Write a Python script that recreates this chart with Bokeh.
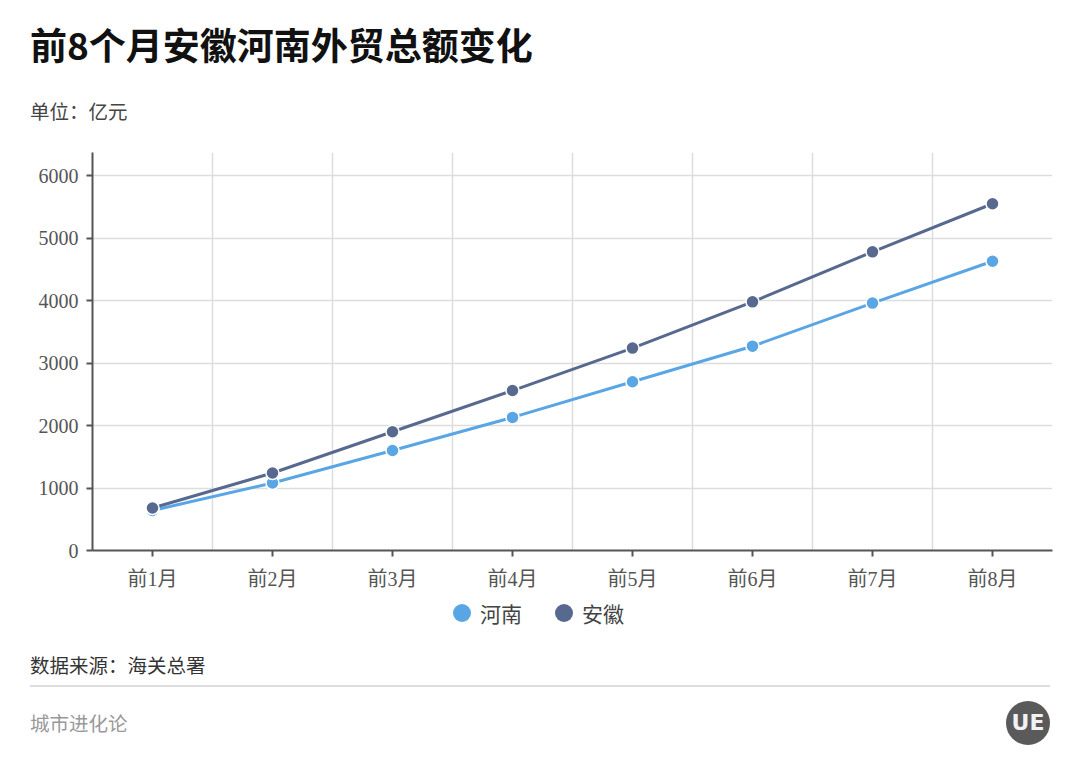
from bokeh.plotting import figure
from bokeh.models import (Div, Range1d, FixedTicker, ColumnDataSource)
from bokeh.layouts import column
from bokeh.embed import file_html
from bokeh.resources import INLINE

# ---- data ----
categories = ["前1月", "前2月", "前3月", "前4月", "前5月", "前6月", "前7月", "前8月"]
henan = [640, 1080, 1600, 2130, 2700, 3270, 3960, 4630]
anhui = [680, 1240, 1900, 2560, 3240, 3980, 4780, 5550]
y_ticks = [0, 1000, 2000, 3000, 4000, 5000, 6000]
series_names = ["河南", "安徽"]
colors = ["#5aa6e4", "#58698f"]

x_pos = [i + 0.5 for i in range(len(categories))]
boundaries = [i for i in range(1, len(categories))]

CJK = "'Noto Sans CJK SC'"
SERIF_MIX = "'Liberation Serif', 'Noto Sans CJK SC'"

title_div = Div(
    width=1072, height=142,
    text=(
        "<div style='position:relative;width:1072px;height:142px;'>"
        f"<div style=\"position:absolute;left:30px;top:24px;font-family:{CJK};font-weight:bold;"
        "font-size:37px;line-height:40px;color:#111;white-space:nowrap;\">前8个月安徽河南外贸总额变化</div>"
        f"<div style=\"position:absolute;left:30px;top:100px;font-family:{CJK};"
        "font-size:19.5px;line-height:22px;color:#444;white-space:nowrap;\">单位：亿元</div>"
        "</div>"
    ),
    styles={"margin": "0", "padding": "0"},
)

p = figure(
    frame_width=960, frame_height=398,
    min_border_left=92, min_border_right=20, min_border_top=10, min_border_bottom=50,
    x_range=Range1d(0, len(categories)), y_range=Range1d(0, 6370),
    output_backend="svg", toolbar_location=None,
    background_fill_color="white", border_fill_color="white",
)
p.outline_line_color = None

# axes
p.xaxis.ticker = FixedTicker(ticks=x_pos)
p.xaxis.major_label_overrides = {x: c for x, c in zip(x_pos, categories)}
p.yaxis.ticker = FixedTicker(ticks=y_ticks)
for ax in (p.xaxis[0], p.yaxis[0]):
    ax.axis_line_color = "#555555"
    ax.axis_line_width = 2
    ax.major_tick_line_color = "#555555"
    ax.major_tick_line_width = 2
    ax.major_tick_out = 6
    ax.major_tick_in = 0
    ax.minor_tick_line_color = None
    ax.major_label_text_color = "#555555"
    ax.major_label_text_font = SERIF_MIX
    ax.major_label_text_font_size = "20px"
p.xaxis.major_label_standoff = 11
p.yaxis.major_label_standoff = 8

# grids
p.xgrid.ticker = FixedTicker(ticks=boundaries)
p.xgrid.grid_line_color = "#dddddd"
p.xgrid.grid_line_width = 1.5
p.ygrid.ticker = FixedTicker(ticks=y_ticks[1:])
p.ygrid.grid_line_color = "#dddddd"
p.ygrid.grid_line_width = 1.5

for name, vals, col in zip(series_names, [henan, anhui], colors):
    src = ColumnDataSource(dict(x=x_pos, y=vals))
    p.line("x", "y", source=src, line_color=col, line_width=3)
    p.scatter("x", "y", source=src, marker="circle", size=13,
              fill_color=col, line_color="white", line_width=1.5)

# legend (HTML, below the chart), built from the series names / colours
legend_html = ""
lx = 453
for name, col in zip(series_names, colors):
    legend_html += (
        f"<div style='position:absolute;left:{lx}px;top:4px;width:18px;height:18px;"
        f"border-radius:9px;background:{col};'></div>"
        f"<div style=\"position:absolute;left:{lx + 27}px;top:0px;font-family:{CJK};"
        f"font-size:21px;line-height:26px;color:#444;white-space:nowrap;\">{name}</div>"
    )
    lx += 102

bottom_div = Div(
    width=1072, height=165,
    text=(
        "<div style='position:relative;width:1072px;height:165px;'>"
        + legend_html +
        f"<div style=\"position:absolute;left:30px;top:54px;font-family:{CJK};"
        "font-size:19.5px;line-height:22px;color:#333;white-space:nowrap;\">数据来源：海关总署</div>"
        "<div style='position:absolute;left:30px;top:85px;width:1020px;height:2px;background:#dddddd;'></div>"
        f"<div style=\"position:absolute;left:30px;top:112px;font-family:{CJK};"
        "font-size:19.5px;line-height:22px;color:#999;white-space:nowrap;\">城市进化论</div>"
        "<div style=\"position:absolute;left:1006px;top:101px;width:44px;height:44px;border-radius:22px;"
        "background:#5a5a5a;color:#f2f2f2;font-family:'DejaVu Sans';font-weight:bold;font-size:22px;"
        "line-height:44px;text-align:center;\">UE</div>"
        "</div>"
    ),
    styles={"margin": "0", "padding": "0"},
)

layout = column(title_div, p, bottom_div, spacing=0)
open("out.html", "w").write(file_html(layout, INLINE))
